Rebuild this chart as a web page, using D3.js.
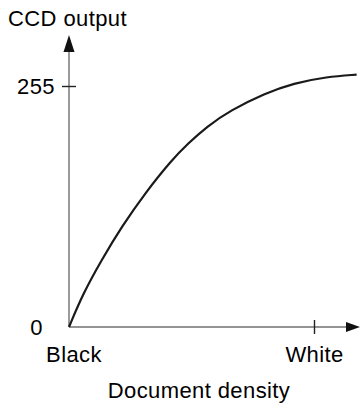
<!DOCTYPE html>
<html>
<head>
<meta charset="utf-8">
<script src="https://cdn.jsdelivr.net/npm/d3@7"></script>
<style>
  html, body { margin: 0; padding: 0; background: #fff; }
  svg { display: block; }
  text { font-family: "Liberation Sans", Arial, Helvetica, sans-serif; fill: #000; letter-spacing: 0.4px; }
</style>
</head>
<body>
<svg id="chart" width="360" height="408"></svg>
<script>
// Response curve: document density (0 = black, 1 = white) vs CCD output level
const densityX  = [0, 0.058, 0.133, 0.215, 0.310, 0.419, 0.487, 0.562, 0.657, 0.800, 0.916, 1.052, 1.174];
const ccdOutput = [0, 35.7, 70.9, 106.1, 141.5, 176.7, 194.4, 211.9, 229.0, 247.3, 257.9, 264.8, 267];

const yTicks = [0, 255];
const yTickLabels = ["0", "255"];
const xTicks = [0, 1];
const xTickLabels = ["Black", "White"];

const yTitle = "CCD output";
const xTitle = "Document density";

const svg = d3.select("#chart");
const fontSize = 22;

const x = d3.scaleLinear().domain([0, 1]).range([69, 314]);
const y = d3.scaleLinear().domain([0, 255]).range([327, 86]);

const axisColor = "#707070";
const xEnd = 360, yEnd = 35;

// axis lines
svg.append("line")
  .attr("x1", x(0)).attr("y1", y(0))
  .attr("x2", xEnd - 12).attr("y2", y(0))
  .attr("stroke", axisColor).attr("stroke-width", 1.4);
svg.append("line")
  .attr("x1", x(0)).attr("y1", y(0))
  .attr("x2", x(0)).attr("y2", yEnd + 15)
  .attr("stroke", axisColor).attr("stroke-width", 1.4);

// arrowheads
svg.append("path")
  .attr("d", `M${x(0)},${yEnd} L${x(0) - 5.5},${yEnd + 17} L${x(0) + 5.5},${yEnd + 17} Z`)
  .attr("fill", "#111");
svg.append("path")
  .attr("d", `M${xEnd},${y(0)} L${xEnd - 14},${y(0) - 5} L${xEnd - 14},${y(0) + 5} Z`)
  .attr("fill", "#111");

// y axis ticks and labels
const yAxis = d3.axisLeft(y)
  .tickValues(yTicks)
  .tickSize(7)
  .tickPadding(7)
  .tickFormat((d, i) => yTickLabels[i]);
const gy = svg.append("g").attr("transform", `translate(${x(0)},0)`).call(yAxis);
gy.select(".domain").remove();
gy.selectAll(".tick line")
  .attr("x1", 7)
  .attr("stroke", "#222").attr("stroke-width", 1.4)
  .attr("display", d => d === 0 ? "none" : null);
gy.selectAll(".tick text")
  .attr("font-size", fontSize)
  .attr("font-family", null)
  .attr("x", d => d === 0 ? -26 : -14);

// x axis ticks and labels
const xAxis = d3.axisBottom(x)
  .tickValues(xTicks)
  .tickSize(7)
  .tickPadding(12)
  .tickFormat((d, i) => xTickLabels[i]);
const gx = svg.append("g").attr("transform", `translate(0,${y(0)})`).call(xAxis);
gx.select(".domain").remove();
gx.selectAll(".tick line")
  .attr("y1", -7)
  .attr("stroke", "#222").attr("stroke-width", 1.4)
  .attr("display", d => d === 0 ? "none" : null);
gx.selectAll(".tick text")
  .attr("font-size", fontSize)
  .attr("font-family", null)
  .attr("dx", d => d === 0 ? 4.5 : 0);

// response curve
const line = d3.line()
  .x((d, i) => x(densityX[i]))
  .y(d => y(d))
  .curve(d3.curveBasis);
svg.append("path")
  .attr("d", line(ccdOutput))
  .attr("fill", "none")
  .attr("stroke", "#1a1a1a")
  .attr("stroke-width", 2.2);

// titles
svg.append("text")
  .attr("x", 8).attr("y", 26)
  .attr("font-size", fontSize)
  .text(yTitle);
svg.append("text")
  .attr("x", 199).attr("y", 398)
  .attr("text-anchor", "middle")
  .attr("font-size", fontSize)
  .text(xTitle);
</script>
</body>
</html>
